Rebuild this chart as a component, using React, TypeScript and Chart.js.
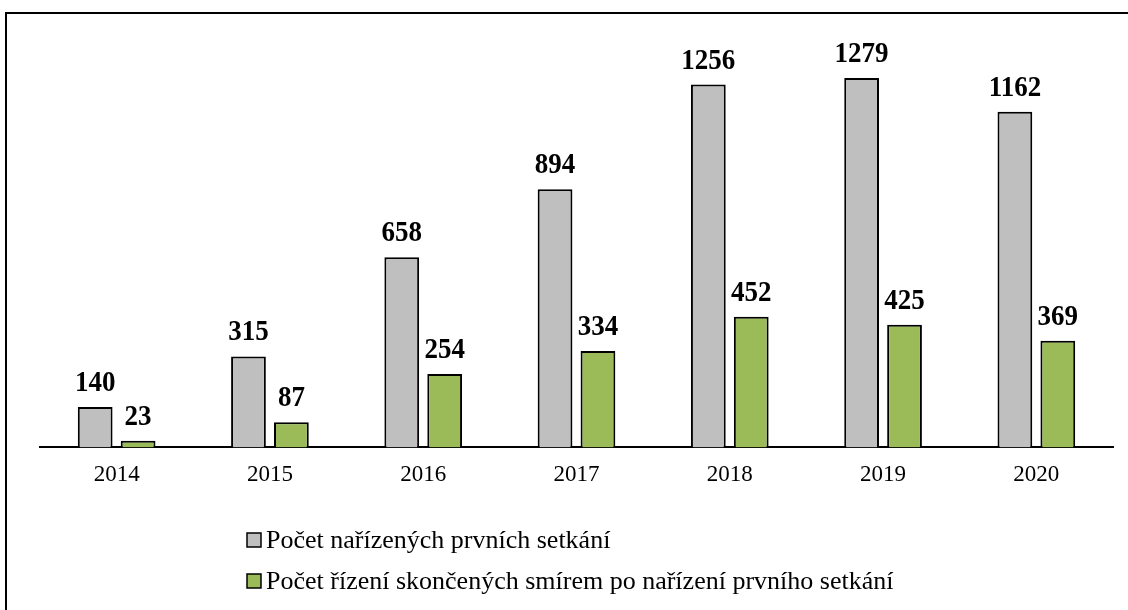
import { useEffect, useRef } from 'react';
import { Chart, registerables } from 'chart.js';

Chart.register(...registerables);

const years = ['2014', '2015', '2016', '2017', '2018', '2019', '2020'];
const orderedMeetings = [140, 315, 658, 894, 1256, 1279, 1162];
const settledCases = [23, 87, 254, 334, 452, 425, 369];
const seriesLabels = [
  'Počet nařízených prvních setkání',
  'Počet řízení skončených smírem po nařízení prvního setkání',
];
const seriesColors = ['#BFBFBF', '#9BBB59'];

const FONT = "'Liberation Serif', 'Times New Roman', serif";

const dataLabelPlugin = {
  id: 'dataLabels',
  afterDatasetsDraw(chart: any) {
    const ctx = chart.ctx;
    chart.data.datasets.forEach((ds: any, di: number) => {
      const meta = chart.getDatasetMeta(di);
      meta.data.forEach((el: any, i: number) => {
        ctx.save();
        ctx.font = `bold 27px ${FONT}`;
        ctx.fillStyle = '#000';
        ctx.textAlign = 'center';
        ctx.textBaseline = 'alphabetic';
        ctx.translate(el.x, el.y - 16);
        ctx.scale(1, 1.08);
        ctx.fillText(String(ds.data[i]), 0, 0);
        ctx.restore();
      });
    });
  },
};

const legendPlugin = {
  id: 'customLegend',
  afterDraw(chart: any) {
    const ctx = chart.ctx;
    ctx.save();
    ctx.font = `26px ${FONT}`;
    ctx.textBaseline = 'middle';
    ctx.textAlign = 'left';
    const rows = [540, 581];
    chart.data.datasets.forEach((ds: any, di: number) => {
      const y = rows[di];
      ctx.fillStyle = ds.backgroundColor;
      ctx.fillRect(247, y - 7, 14, 14);
      ctx.lineWidth = 1.5;
      ctx.strokeStyle = '#000';
      ctx.strokeRect(247, y - 7, 14, 14);
      ctx.fillStyle = '#000';
      ctx.fillText(ds.label, 266, y + 1);
    });
    ctx.restore();
  },
};

export default function App() {
  const ref = useRef<HTMLCanvasElement | null>(null);

  useEffect(() => {
    if (!ref.current) return;
    const chart = new Chart(ref.current, {
      type: 'bar',
      data: {
        labels: years,
        datasets: [
          {
            label: seriesLabels[0],
            data: orderedMeetings,
            backgroundColor: seriesColors[0],
            borderColor: '#000',
            borderWidth: 2,
            categoryPercentage: 0.56,
            barPercentage: 0.81,
          },
          {
            label: seriesLabels[1],
            data: settledCases,
            backgroundColor: seriesColors[1],
            borderColor: '#000',
            borderWidth: 2,
            categoryPercentage: 0.56,
            barPercentage: 0.81,
          },
        ],
      },
      options: {
        responsive: false,
        animation: false,
        layout: { padding: { left: 40, right: 15, top: 43, bottom: 107 } },
        plugins: {
          legend: { display: false },
          tooltip: { enabled: false },
        },
        scales: {
          x: {
            grid: { display: false, drawTicks: false },
            border: { display: true, color: '#000', width: 2 },
            ticks: {
              color: '#000',
              padding: 14,
              font: { family: FONT, size: 23 },
            },
          },
          y: {
            display: false,
            min: 0,
            max: 1400,
          },
        },
      },
      plugins: [dataLabelPlugin, legendPlugin],
    });
    return () => chart.destroy();
  }, []);

  return (
    <div
      style={{
        position: 'absolute',
        left: 0,
        top: 0,
        width: 1128,
        height: 610,
        background: '#fff',
        overflow: 'hidden',
      }}
    >
      <canvas ref={ref} width={1128} height={610} style={{ position: 'absolute', left: 0, top: 0 }} />
      <div
        style={{
          position: 'absolute',
          left: 5,
          top: 12,
          width: 1200,
          height: 700,
          borderLeft: '2px solid #000',
          borderTop: '2px solid #000',
          pointerEvents: 'none',
        }}
      />
    </div>
  );
}
